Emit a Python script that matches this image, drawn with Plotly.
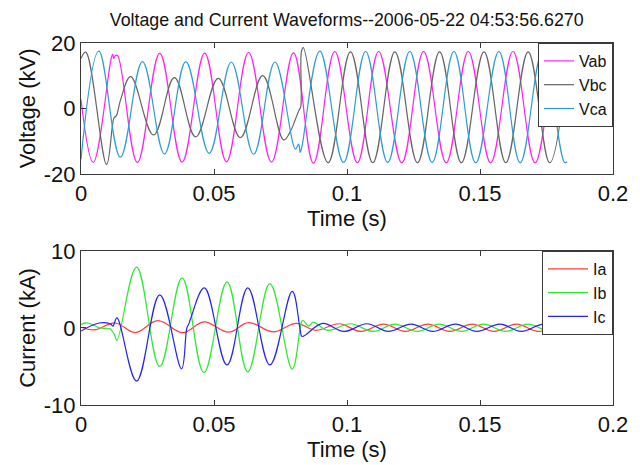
import plotly.graph_objects as go
from plotly.subplots import make_subplots

# ---------------- Voltage waveforms (kV) ----------------
# turning points (peaks, troughs, transients) of each phase-to-phase voltage
vab_t = [0.0000, 0.0046, 0.0114, 0.0119, 0.0123, 0.0129, 0.0138, 0.0212, 0.0296, 0.0380,
         0.0465, 0.0547, 0.0630, 0.0716, 0.0799, 0.0874, 0.0954, 0.1039, 0.1119, 0.1206,
         0.1288, 0.1373, 0.1456, 0.1540, 0.1624, 0.1707, 0.1790, 0.1828]
vab_v = [2.7, -16.5, 15.5, 16.5, 15.3, 16.2, 16.1, -16.5, 16.8, -16.4,
         16.9, -16.3, 17.1, -16.4, 17.0, -16.7, 17.4, -16.6, 17.4, -16.6,
         17.4, -16.6, 17.4, -16.6, 17.4, -16.6, 17.3, 2.4]

vbc_t = [0.0000, 0.0018, 0.0096, 0.0118, 0.0124, 0.0133, 0.0149, 0.0187, 0.0273, 0.0351,
         0.0431, 0.0516, 0.0599, 0.0683, 0.0762, 0.0790, 0.0805, 0.0820, 0.0826, 0.0829,
         0.0836, 0.0929, 0.1013, 0.1097, 0.1180, 0.1265, 0.1348, 0.1430, 0.1515, 0.1597,
         0.1681, 0.1762, 0.1828]
vbc_v = [15.3, 17.2, -17.1, -5.4, -2.9, -2.2, 2.7, 9.7, -8.1, 9.4,
         -8.7, 9.2, -8.9, 10.0, -9.6, -6.5, -3.5, -0.5, 0.5, 17.5,
         18.6, -16.6, 17.3, -16.6, 17.3, -16.6, 17.3, -16.6, 17.3, -16.6,
         17.3, -16.6, 13.5]

vca_t = [0.0000, 0.0067, 0.0148, 0.0231, 0.0314, 0.0394, 0.0482, 0.0565, 0.0649, 0.0729,
         0.0806, 0.0818, 0.0824, 0.0830, 0.0898, 0.0987, 0.1070, 0.1153, 0.1236, 0.1320,
         0.1402, 0.1484, 0.1571, 0.1651, 0.1735, 0.1818, 0.1828]
vca_v = [-15.5, 17.5, -14.9, 14.3, -13.9, 14.3, -13.7, 14.2, -14.0, 14.2,
         -12.4, -10.9, -13.4, -11.9, 17.5, -16.5, 17.4, -16.5, 17.4, -16.5,
         17.4, -16.6, 17.4, -16.6, 17.4, -16.5, -16.3]

# ---------------- Phase currents (kA) ----------------
ia_t = [0.0000, 0.0050, 0.0129, 0.0204, 0.0289, 0.0383, 0.0462, 0.0555, 0.0630, 0.0723,
        0.0809, 0.0883, 0.0970, 0.1053, 0.1137, 0.1220, 0.1303, 0.1387, 0.1470, 0.1553,
        0.1637, 0.1720, 0.1803, 0.1828]
ia_v = [0.1, -0.25, 0.65, -0.6, 0.95, -0.6, 0.8, -0.55, 0.7, -0.5,
        0.6, -0.3, 0.55, -0.45, 0.5, -0.45, 0.5, -0.45, 0.5, -0.45,
        0.5, -0.45, 0.5, 0.4]

ib_t = [0.0000, 0.0024, 0.0073, 0.0110, 0.0117, 0.0125, 0.0135, 0.0209, 0.0296, 0.0380,
        0.0462, 0.0549, 0.0627, 0.0710, 0.0794, 0.0828, 0.0834, 0.0856, 0.0873, 0.0927,
        0.1013, 0.1099, 0.1180, 0.1264, 0.1347, 0.1430, 0.1513, 0.1597, 0.1680, 0.1764,
        0.1828]
ib_v = [0.45, 0.65, 0.0, -0.1, -0.4, -0.8, -1.6, 7.9, -5.0, 6.5,
        -5.8, 6.0, -5.7, 5.75, -5.35, 0.67, 1.0, 0.25, 0.75, -0.3,
        0.55, -0.45, 0.5, -0.45, 0.5, -0.45, 0.5, -0.45, 0.5, -0.45,
        0.3]

ic_t = [0.0000, 0.0068, 0.0110, 0.0120, 0.0135, 0.0209, 0.0296, 0.0378, 0.0398, 0.0405,
        0.0412, 0.0464, 0.0549, 0.0627, 0.0710, 0.0794, 0.0824, 0.0831, 0.0908, 0.0988,
        0.1075, 0.1155, 0.1241, 0.1322, 0.1408, 0.1488, 0.1575, 0.1655, 0.1741, 0.1822,
        0.1828]
ic_v = [-0.4, 0.65, 0.55, 0.25, 1.3, -6.9, 4.3, -5.3, 0.0, 0.5,
        1.2, 5.2, -4.8, 5.2, -4.8, 4.75, -0.2, -1.1, 0.6, -0.45,
        0.55, -0.45, 0.5, -0.45, 0.5, -0.45, 0.5, -0.45, 0.5, -0.45,
        -0.42]

# axis ticks
time_ticks = [0, 0.05, 0.1, 0.15, 0.2]
time_labels = ["0", "0.05", "0.1", "0.15", "0.2"]
volt_ticks = [-20, 0, 20]
volt_labels = ["-20", "0", "20"]
curr_ticks = [-10, 0, 10]
curr_labels = ["-10", "0", "10"]

FONT = "Liberation Sans, Arial, sans-serif"

fig = make_subplots(rows=2, cols=1)

volt_series = [("Vab", vab_t, vab_v, "#ff22ee"),
               ("Vbc", vbc_t, vbc_v, "#666666"),
               ("Vca", vca_t, vca_v, "#2f9dd4")]
curr_series = [("Ia", ia_t, ia_v, "#ff3b3b"),
               ("Ib", ib_t, ib_v, "#2ee82e"),
               ("Ic", ic_t, ic_v, "#2424ee")]

for name, t, v, c in volt_series:
    fig.add_trace(go.Scatter(x=t, y=v, name=name, mode="lines",
                             line=dict(color=c, width=1.2, shape="spline", smoothing=1.1),
                             legend="legend"), row=1, col=1)
for name, t, v, c in curr_series:
    fig.add_trace(go.Scatter(x=t, y=v, name=name, mode="lines",
                             line=dict(color=c, width=1.2, shape="spline", smoothing=1.1),
                             legend="legend2"), row=2, col=1)

axis_common = dict(showline=True, linecolor="#3a3a3a", linewidth=1, mirror="ticks",
                   ticks="inside", ticklen=5, tickcolor="#3a3a3a",
                   showgrid=False, zeroline=False,
                   tickfont=dict(family=FONT, size=22, color="#111"))

x_common = dict(axis_common, range=[0, 0.2], tickvals=time_ticks, ticktext=time_labels,
                title=dict(text="Time (s)", font=dict(family=FONT, size=22, color="#111"),
                           standoff=0))

legend_common = dict(x=1, xanchor="right", yanchor="top", bgcolor="white",
                     bordercolor="#3a3a3a", borderwidth=1,
                     font=dict(family=FONT, size=16, color="#111"))

fig.update_layout(
    xaxis=dict(x_common, domain=[0, 1], anchor="y"),
    yaxis=dict(axis_common, domain=[0.6384, 1], range=[-20, 20], tickvals=volt_ticks,
               ticktext=volt_labels,
               title=dict(text="Voltage (kV)", font=dict(family=FONT, size=22, color="#111"),
                          standoff=2)),
    xaxis2=dict(x_common, domain=[0, 1], anchor="y2"),
    yaxis2=dict(axis_common, domain=[0, 0.4255], range=[-10, 10], tickvals=curr_ticks,
                ticktext=curr_labels,
                title=dict(text="Current (kA)", font=dict(family=FONT, size=22, color="#111"),
                           standoff=2)),
    legend=dict(legend_common, y=1),
    legend2=dict(legend_common, y=0.4255, itemwidth=40),
    title=dict(text="Voltage and Current Waveforms--2006-05-22 04:53:56.6270",
               font=dict(family=FONT, size=17.8, color="#111"),
               xref="container", x=346.7 / 640, xanchor="center",
               yref="container", y=1 - 19.5 / 465, yanchor="middle"),
    width=640, height=465,
    margin=dict(l=81, r=19, t=43, b=57),
    paper_bgcolor="white", plot_bgcolor="white",
)

fig.write_html("out.html")
